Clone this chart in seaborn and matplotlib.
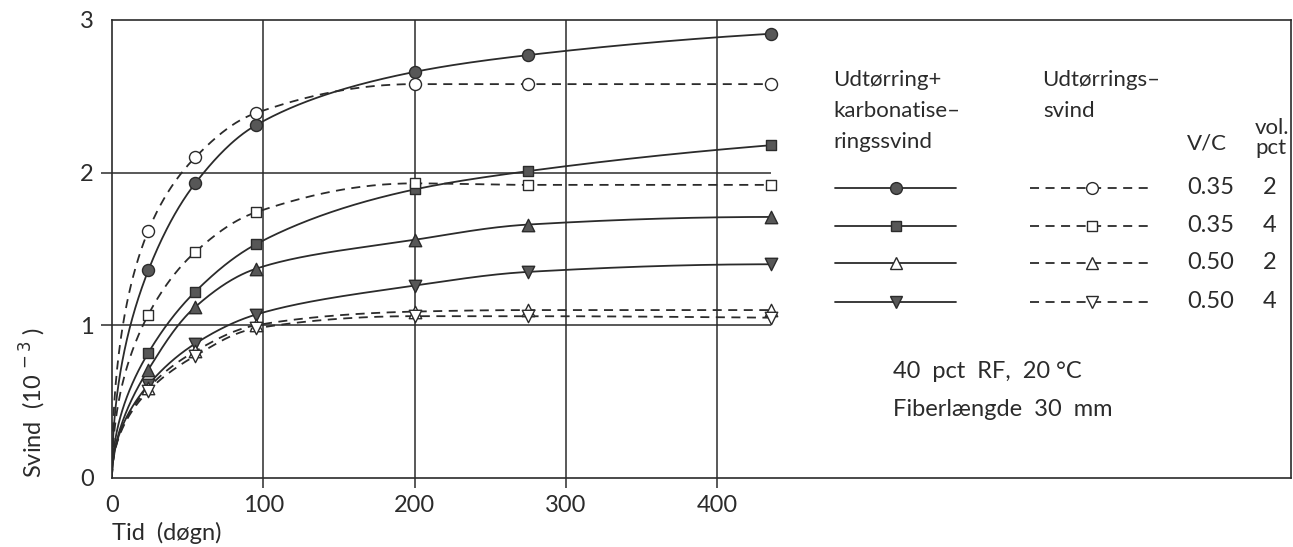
import numpy as np
import pandas as pd
import matplotlib
matplotlib.use("Agg")
import matplotlib.pyplot as plt
import seaborn as sns
from matplotlib.lines import Line2D

# ---------------- data ----------------
days = [0, 24, 55, 95, 200, 275, 436]

# Udtørring + karbonatiseringssvind (solid lines, filled markers)
carb_035_2 = [0.0, 1.36, 1.93, 2.31, 2.66, 2.77, 2.91]
carb_035_4 = [0.0, 0.82, 1.22, 1.53, 1.89, 2.01, 2.18]
carb_050_2 = [0.0, 0.71, 1.12, 1.37, 1.56, 1.66, 1.71]
carb_050_4 = [0.0, 0.61, 0.88, 1.07, 1.26, 1.35, 1.40]

# Udtørringssvind (dashed lines, open markers)
dry_035_2 = [0.0, 1.62, 2.10, 2.39, 2.58, 2.58, 2.58]
dry_035_4 = [0.0, 1.07, 1.48, 1.74, 1.93, 1.92, 1.92]
dry_050_2 = [0.0, 0.59, 0.83, 1.00, 1.09, 1.10, 1.10]
dry_050_4 = [0.0, 0.57, 0.80, 0.98, 1.06, 1.06, 1.05]

vc_labels = ["0.35", "0.35", "0.50", "0.50"]
vol_labels = ["2", "4", "2", "4"]
x_ticks = [0, 100, 200, 300, 400]
y_ticks = [0, 1, 2, 3]

# ---------------- style ----------------
W, H = 1293, 547
sns.set_theme(style="white")
plt.rcParams["font.family"] = ["Lato", "DejaVu Sans"]
plt.rcParams["font.weight"] = "normal"

INK = "#2b2b2b"
FILL = "#575757"
LW = 1.3

fig = plt.figure(figsize=(W / 100, H / 100), dpi=100)
ax = fig.add_axes([112 / W, 1 - 478 / H, (1291 - 112) / W, (478 - 20) / H])
ax.set_xlim(0, 779.5)
ax.set_ylim(0, 3)


def pchip(x, y, xn):
    x = np.asarray(x, float)
    y = np.asarray(y, float)
    h = np.diff(x)
    d = np.diff(y) / h
    n = len(x)
    m = np.zeros(n)
    for k in range(1, n - 1):
        if d[k - 1] * d[k] > 0:
            w1 = 2 * h[k] + h[k - 1]
            w2 = h[k] + 2 * h[k - 1]
            m[k] = (w1 + w2) / (w1 / d[k - 1] + w2 / d[k])
        else:
            m[k] = 0.0
    m[0] = ((2 * h[0] + h[1]) * d[0] - h[0] * d[1]) / (h[0] + h[1])
    if np.sign(m[0]) != np.sign(d[0]):
        m[0] = 0
    m[-1] = ((2 * h[-1] + h[-2]) * d[-1] - h[-1] * d[-2]) / (h[-1] + h[-2])
    if np.sign(m[-1]) != np.sign(d[-1]):
        m[-1] = 0
    idx = np.clip(np.searchsorted(x, xn) - 1, 0, n - 2)
    t = (xn - x[idx]) / h[idx]
    h00 = 2 * t**3 - 3 * t**2 + 1
    h10 = t**3 - 2 * t**2 + t
    h01 = -2 * t**3 + 3 * t**2
    h11 = t**3 - t**2
    return h00 * y[idx] + h10 * h[idx] * m[idx] + h01 * y[idx + 1] + h11 * h[idx] * m[idx + 1]


def smooth(xs, ys):
    s = np.sqrt(np.asarray(xs, float))
    sn = np.linspace(0, s[-1], 400)
    return sn**2, pchip(s, ys, sn)


series = [
    (carb_035_2, "-", "o", FILL),
    (carb_035_4, "-", "s", FILL),
    (carb_050_2, "-", "^", FILL),
    (carb_050_4, "-", "v", FILL),
    (dry_035_2, "--", "o", "white"),
    (dry_035_4, "--", "s", "white"),
    (dry_050_2, "--", "^", "white"),
    (dry_050_4, "--", "v", "white"),
]
DASH = (0, (5, 3.6))
msize = {"o": 75, "s": 60, "^": 80, "v": 80}

# grid lines (vertical at x ticks, horizontal at 1 and 2 up to last observation)
ax.vlines(x_ticks[1:], -0.065, 3, colors=INK, lw=1.1, clip_on=False, zorder=1)
ax.hlines([1, 2], -7.3, days[-1], colors=INK, lw=1.1, clip_on=False, zorder=1)

for vals, ls, mk, fc in series:
    xs, ys = smooth(days, vals)
    sns.lineplot(x=xs, y=ys, ax=ax, color=INK, linewidth=LW, sort=False,
                 linestyle=DASH if ls == "--" else "-", zorder=2)
    sns.scatterplot(x=days[1:], y=vals[1:], ax=ax, marker=mk, s=msize[mk],
                    color=fc, edgecolor=INK, linewidth=1.0, zorder=4)

ax.set_xticks(x_ticks)
ax.set_yticks(y_ticks)
ax.tick_params(axis="both", length=0, labelsize=17, labelcolor=INK)
ax.tick_params(axis="x", pad=12)
ax.tick_params(axis="y", pad=13)
for sp in ax.spines.values():
    sp.set_color(INK)
    sp.set_linewidth(1.2)
ax.set_xlabel("")
ax.set_ylabel("")

# axis titles
fig.text(112 / W, 1 - 533 / H, "Tid  (døgn)", fontsize=17, color=INK, ha="left", va="center")
fig.text(33 / W, 1 - 403 / H, r"Svind  (10$^{\,-3}$ )", fontsize=17, color=INK, rotation=90,
         ha="center", va="center")

# legend block
TS = 16
def ftext(px, py, s, **kw):
    fig.text(px / W, 1 - py / H, s, fontsize=kw.pop("fontsize", TS), color=INK, va="center", **kw)

ftext(833, 80, "Udtørring+")
ftext(833, 111, "karbonatise–")
ftext(833, 142, "ringssvind")
ftext(1042, 80, "Udtørrings–")
ftext(1043, 111, "svind")
ftext(1187, 143, "V/C")
ftext(1255, 128, "vol.")
ftext(1255, 148, "pct")

rows_y = [188, 226, 263, 302]
leg_solid_mk = [("o", FILL), ("s", FILL), ("^", "white"), ("v", FILL)]
leg_dash_mk = ["o", "s", "^", "v"]
for i, py in enumerate(rows_y):
    fy = 1 - py / H
    fig.add_artist(Line2D([835 / W, 956 / W], [fy, fy], color=INK, lw=LW))
    mk, fc = leg_solid_mk[i]
    fig.add_artist(Line2D([896 / W], [fy], marker=mk, markersize=8.5 if mk != "s" else 7.5,
                          markerfacecolor=fc, markeredgecolor=INK, markeredgewidth=1.0, lw=0))
    fig.add_artist(Line2D([1030 / W, 1153 / W], [fy, fy], color=INK, lw=LW, linestyle=DASH))
    mk2 = leg_dash_mk[i]
    fig.add_artist(Line2D([1092 / W], [fy], marker=mk2, markersize=8.5 if mk2 != "s" else 7.5,
                          markerfacecolor="white", markeredgecolor=INK, markeredgewidth=1.0, lw=0))
    ftext(1187, py, vc_labels[i], fontsize=17)
    ftext(1270, py, vol_labels[i], fontsize=17, ha="center")

ftext(893, 372, "40  pct  RF,  20 °C", fontsize=17)
ftext(893, 409, "Fiberlængde  30  mm", fontsize=17)

fig.savefig("out.png", dpi=100)
